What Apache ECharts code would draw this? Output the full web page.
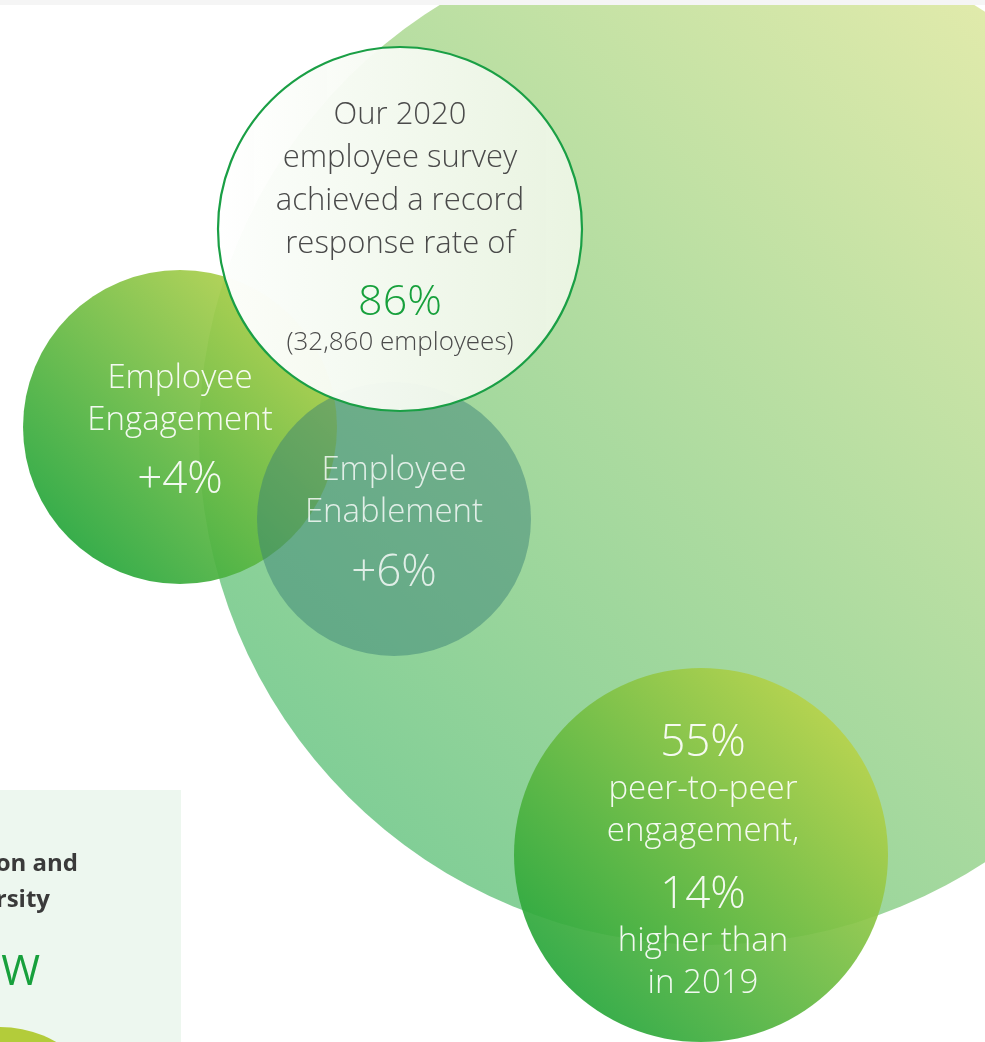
<!DOCTYPE html>
<html>
<head>
<meta charset="utf-8">
<title>Employee survey 2020</title>
<script src="https://cdn.jsdelivr.net/npm/echarts@6/dist/echarts.min.js"></script>
<style>
html, body { margin: 0; padding: 0; background: #f5f5f5; }
#bubbles { position: absolute; left: 0; top: 5px; width: 985px; height: 1037px; background: #fff; }
</style>
</head>
<body>
<div id="bubbles"></div>
<script>
// bubbles: centre x, centre y, radius (page pixels)
const bubbleNames = ['backdrop', 'Employee Engagement', 'Employee Enablement', 'Survey', 'Peer-to-peer', 'corner'];
const bubbleX = [707, 180, 394, 400, 701, 0];
const bubbleY = [437, 427, 519, 229, 855, 1140];
const bubbleR = [508, 157, 137, 182, 187, 113];

const engagementLines = ['Employee', 'Engagement'];
const engagementChange = '+4%';
const enablementLines = ['Employee', 'Enablement'];
const enablementChange = '+6%';
const surveyLines = ['Our 2020', 'employee survey', 'achieved a record', 'response rate of'];
const surveyRate = '86%';
const surveyCount = '(32,860 employees)';
const peerShare = '55%';
const peerLines = ['peer-to-peer', 'engagement,'];
const peerGain = '14%';
const peerGainLines = ['higher than', 'in 2019'];

// side panel (partly off page)
const panelBox = [[0, 790], [181, 1042]];
const panelLines = ['Inclusion and', 'Diversity'];
const panelLineX = [78, 50];
const panelLineY = [864, 900];
const panelValue = 'W';
const panelValuePos = [40, 973];

const FONT = '"Open Sans", "DejaVu Sans", sans-serif';

function grad(stops) {
  return new echarts.graphic.LinearGradient(0, 1, 1, 0, stops);
}
function lines(arr, key) {
  return arr.map(function (l) { return '{' + key + '|' + l + '}'; }).join('\n');
}

const whiteRich = function (gap) {
  return {
    t: { fontSize: 33, lineHeight: 42, color: '#fff', fontFamily: FONT, fontWeight: 300 },
    p: { fontSize: 44, lineHeight: 52, color: '#fff', fontFamily: FONT, fontWeight: 300 },
    s: { fontSize: 2, lineHeight: gap }
  };
};

const styles = [
  { color: grad([{ offset: 0.15, color: '#62c27c' }, { offset: 0.85, color: '#d9e596' }]), opacity: 0.8 },
  { color: grad([{ offset: 0.1, color: '#1ea43b' }, { offset: 0.9, color: '#bcd44e' }]), opacity: 0.92 },
  { color: 'rgba(56,128,118,0.6)', opacity: 0.8 },
  { color: new echarts.graphic.LinearGradient(0, 0, 1, 0, [
      { offset: 0, color: 'rgba(255,255,255,0.97)' },
      { offset: 1, color: 'rgba(236,245,228,0.95)' }]),
    borderColor: '#1a9f45', borderWidth: 2.2, opacity: 1 },
  { color: grad([{ offset: 0.1, color: '#1fa43b' }, { offset: 0.85, color: '#b5d24a' }]), opacity: 0.92 },
  { color: '#b3cc3a', opacity: 1 }
];

const labels = [
  null,
  { formatter: lines(engagementLines, 't') + '\n{s| }\n{p|' + engagementChange + '}', offset: [0, 5], rich: whiteRich(13) },
  { formatter: lines(enablementLines, 't') + '\n{s| }\n{p|' + enablementChange + '}', offset: [0, 5.5], rich: whiteRich(13) },
  { formatter: lines(surveyLines, 't') + '\n{s| }\n{p|' + surveyRate + '}\n{c|' + surveyCount + '}', offset: [0, -3],
    rich: {
      t: { fontSize: 31, lineHeight: 43, color: '#4a4a4a', fontFamily: FONT, fontWeight: 300 },
      p: { fontSize: 43, lineHeight: 50, color: '#17a03c', fontFamily: FONT, fontWeight: 300 },
      c: { fontSize: 26, lineHeight: 30, color: '#4a4a4a', fontFamily: FONT, fontWeight: 300 },
      s: { fontSize: 2, lineHeight: 12 }
    } },
  { formatter: '{p|' + peerShare + '}\n' + lines(peerLines, 't') + '\n{s| }\n{p|' + peerGain + '}\n' + lines(peerGainLines, 't'),
    offset: [2, 6], rich: whiteRich(16) },
  null
];

const bubbleData = bubbleNames.map(function (name, i) {
  const item = { name: name, value: [bubbleX[i], bubbleY[i], bubbleR[i]], itemStyle: styles[i] };
  if (labels[i]) {
    item.label = Object.assign({ show: true, position: 'inside', align: 'center' }, labels[i]);
  }
  return item;
});

const panelData = panelLines.map(function (l, i) {
  return { value: [panelLineX[i], panelLineY[i]], label: { formatter: l } };
});

const option = {
  animation: false,
  grid: { left: 0, right: 0, top: 0, bottom: 0 },
  xAxis: { type: 'value', min: 0, max: 985, show: false },
  yAxis: { type: 'value', min: 5, max: 1042, inverse: true, show: false },
  series: [
    {
      type: 'scatter', silent: true, data: [], z: 1,
      markArea: {
        silent: true,
        itemStyle: { color: '#edf7ef', opacity: 1 },
        data: [[{ coord: panelBox[0] }, { coord: panelBox[1] }]]
      }
    },
    {
      type: 'scatter', silent: true, z: 2, clip: false,
      symbol: 'circle',
      symbolSize: function (v) { return v[2] * 2; },
      data: bubbleData
    },
    {
      type: 'scatter', silent: true, z: 3, symbolSize: 0, itemStyle: { opacity: 1 },
      label: { show: true, position: 'left', distance: 0, color: '#3a3a3a', fontSize: 24, fontWeight: 'bold', fontFamily: FONT },
      data: panelData
    },
    {
      type: 'scatter', silent: true, z: 3, symbolSize: 0, itemStyle: { opacity: 1 },
      label: { show: true, position: 'left', distance: 0, color: '#17a03c', fontSize: 42, fontWeight: 400, fontFamily: FONT, formatter: panelValue },
      data: [panelValuePos]
    }
  ]
};

const chart = echarts.init(document.getElementById('bubbles'));
chart.setOption(option);
</script>
</body>
</html>
